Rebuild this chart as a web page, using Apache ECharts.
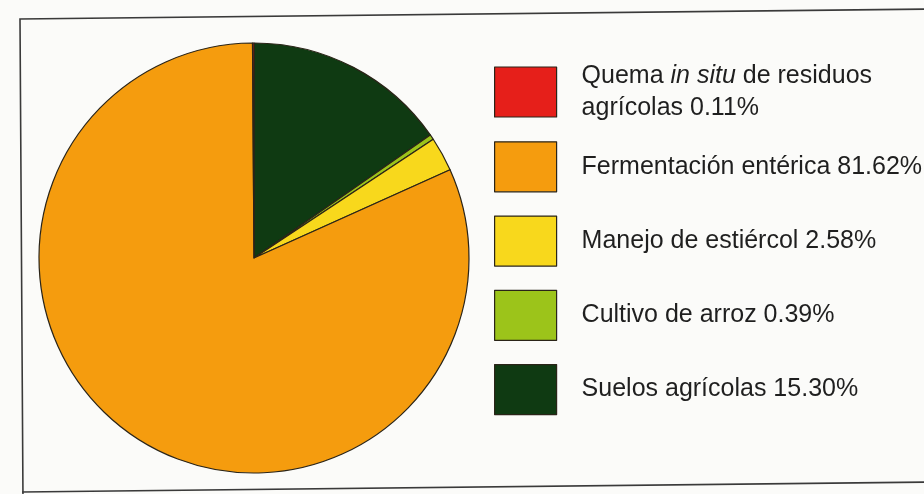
<!DOCTYPE html>
<html>
<head>
<meta charset="utf-8">
<script src="https://cdn.jsdelivr.net/npm/echarts@6/dist/echarts.min.js"></script>
<style>
  html, body { margin: 0; padding: 0; background: #fbfbf9; }
  #main { width: 924px; height: 494px; }
</style>
</head>
<body>
<div id="main"></div>
<script>
// slices in clockwise order starting from 12 o'clock
var sliceNames = [
  "Suelos agrícolas",
  "Cultivo de arroz",
  "Manejo de estiércol",
  "Fermentación entérica",
  "Quema in situ de residuos\nagrícolas"
];
var sliceValues = [15.30, 0.39, 2.58, 81.62, 0.11];
var sliceColors = ["#0f3a12", "#9cc41a", "#f8d81c", "#f59c0e", "#e61f1a"];

// legend order as in the picture (top to bottom)
var legendOrder = [
  "Quema in situ de residuos\nagrícolas",
  "Fermentación entérica",
  "Manejo de estiércol",
  "Cultivo de arroz",
  "Suelos agrícolas"
];

var chart = echarts.init(document.getElementById("main"));

var pieData = sliceNames.map(function (n, i) {
  return { name: n, value: sliceValues[i], itemStyle: { color: sliceColors[i] } };
});

// one legend block per item so every square keeps the same spacing
var legends = legendOrder.map(function (n, i) {
  var iconTop = 67 + i * 74.25;
  var lines = n.split("\n").length;
  return {
    data: [n],
    orient: "vertical",
    left: 494,
    top: iconTop - (lines > 1 ? 7 : 0),
    padding: 0,
    itemWidth: 62,
    itemHeight: 50,
    icon: "rect",
    selectedMode: false,
    itemStyle: { borderColor: "#2a2418", borderWidth: 1.2 },
    formatter: function (name) {
      var v = sliceValues[sliceNames.indexOf(name)];
      return name.replace("in situ", "{i|in situ}") + " " + v.toFixed(2) + "%";
    },
    textStyle: {
      fontFamily: "Liberation Sans",
      fontSize: 25,
      lineHeight: 32,
      color: "#1f1f1f",
      padding: [0, 0, 0, 20],
      rich: {
        i: { fontFamily: "Liberation Sans", fontSize: 25, lineHeight: 32, fontStyle: "italic", color: "#1f1f1f" }
      }
    }
  };
});

chart.setOption({
  animation: false,
  backgroundColor: "#fbfbf9",
  graphic: [
    {
      type: "polyline",
      shape: { points: [[931, 9], [20, 19], [23, 500]] },
      style: { stroke: "#3a3a3a", lineWidth: 1.6, fill: null }
    },
    {
      type: "line",
      shape: { x1: 22, y1: 492, x2: 931, y2: 482 },
      style: { stroke: "#3a3a3a", lineWidth: 1.6 }
    }
  ],
  legend: legends,
  series: [
    {
      type: "pie",
      center: [254, 258],
      radius: 215,
      startAngle: 90,
      clockwise: true,
      label: { show: false },
      labelLine: { show: false },
      emphasis: { disabled: true },
      itemStyle: { borderColor: "#2a2418", borderWidth: 1.2 },
      data: pieData
    }
  ]
});
</script>
</body>
</html>
